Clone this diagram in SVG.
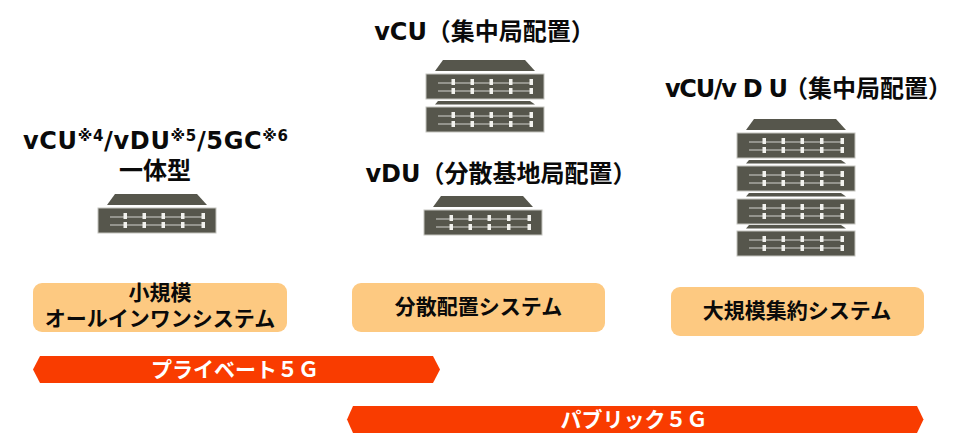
<svg xmlns="http://www.w3.org/2000/svg" xmlns:xlink="http://www.w3.org/1999/xlink" width="980" height="442" viewBox="0 0 980 442">
<style>
text{font-family:"DejaVu Sans","Noto Sans CJK JP",sans-serif;font-weight:700;fill:#0a0a0a;text-anchor:middle}
.h{font-size:24px}
.p{font-size:21px;font-family:"Noto Sans CJK JP",sans-serif}
.b{font-size:21px;font-family:"Noto Sans CJK JP",sans-serif;fill:#fff;font-weight:700}
.s{font-size:15px}
.pill{fill:#fdc981}
.bar{fill:#f93c00}
.body{fill:#56564c;stroke:#c4c4be;stroke-width:1}
.top{fill:#56564c}
.ln{stroke:#a9a9a2;stroke-width:1.4;fill:none}
.sl{fill:#f2f2ee}
</style>
<defs>
<g id="unit">
<rect class="body" x="0" y="0" width="118" height="25"/>
<path class="ln" d="M12 9H105M12 17H105"/>
<rect class="sl" x="25.500" y="5" width="3.500" height="6"/><rect class="sl" x="44.500" y="5" width="3.500" height="6"/><rect class="sl" x="63.500" y="5" width="3.500" height="6"/><rect class="sl" x="83" y="5" width="3.500" height="6"/><rect class="sl" x="103.500" y="5" width="3.500" height="6"/>
<rect class="sl" x="25.500" y="14" width="3.500" height="6"/><rect class="sl" x="44.500" y="14" width="3.500" height="6"/><rect class="sl" x="63.500" y="14" width="3.500" height="6"/><rect class="sl" x="83" y="14" width="3.500" height="6"/><rect class="sl" x="103.500" y="14" width="3.500" height="6"/>
</g>
<path id="lid" class="top" d="M17 -14H99L109 -3H9Z"/>
<path id="lidS" class="top" d="M12 -6H104L109 -2.500H9Z"/>
</defs>
<g id="connectors"></g>
<g id="node-allinone">
<text class="h" x="155.500" y="149" textLength="265" lengthAdjust="spacing">vCU<tspan class="s" dy="-8">※4</tspan><tspan dy="8">/vDU</tspan><tspan class="s" dy="-8">※5</tspan><tspan dy="8">/5GC</tspan><tspan class="s" dy="-8">※6</tspan></text>
<text class="h" x="155" y="179">一体型</text>
<use xlink:href="#lid" href="#lid" x="98" y="208"/>
<use xlink:href="#unit" href="#unit" x="98" y="208"/>
<rect class="pill" x="33" y="283" width="254" height="49" rx="9"/>
<text class="p"><tspan x="160" y="300">小規模</tspan><tspan x="160" y="326">オールインワンシステム</tspan></text>
</g>
<g id="node-vcu">
<text class="h" x="484.500" y="40">vCU（集中局配置）</text>
<use xlink:href="#lid" href="#lid" x="426" y="74"/>
<use xlink:href="#unit" href="#unit" x="426" y="74"/>
<use xlink:href="#lidS" href="#lidS" x="426" y="107"/>
<use xlink:href="#unit" href="#unit" x="426" y="107"/>
</g>
<g id="node-vdu">
<text class="h" x="501" y="182">vDU（分散基地局配置）</text>
<use xlink:href="#lid" href="#lid" x="424" y="210"/>
<use xlink:href="#unit" href="#unit" x="424" y="210"/>
<rect class="pill" x="352" y="283" width="253" height="49" rx="9"/>
<text class="p" x="478.500" y="314">分散配置システム</text>
</g>
<g id="node-central">
<text class="h" style="text-anchor:start" y="97"><tspan x="665" letter-spacing="-1.300">vCU/v D U</tspan><tspan x="784">（集中局配置）</tspan></text>
<use xlink:href="#lid" href="#lid" x="737" y="133"/>
<use xlink:href="#unit" href="#unit" x="737" y="133"/>
<use xlink:href="#lidS" href="#lidS" x="737" y="166"/>
<use xlink:href="#unit" href="#unit" x="737" y="166"/>
<use xlink:href="#lidS" href="#lidS" x="737" y="199"/>
<use xlink:href="#unit" href="#unit" x="737" y="199"/>
<use xlink:href="#lidS" href="#lidS" x="737" y="231"/>
<use xlink:href="#unit" href="#unit" x="737" y="231"/>
<rect class="pill" x="671" y="287" width="253" height="49" rx="9"/>
<text class="p" x="797" y="318">大規模集約システム</text>
</g>
<g id="bar-private">
<path class="bar" d="M40 356H433L440 369.500L433 383H40L33 369.500Z"/>
<text class="b" x="235" y="377">プライベート５Ｇ</text>
</g>
<g id="bar-public">
<path class="bar" d="M353 406H917L923.500 419.500L917 433H353L347 419.500Z"/>
<text class="b" x="634" y="427">パブリック５Ｇ</text>
</g>
</svg>
